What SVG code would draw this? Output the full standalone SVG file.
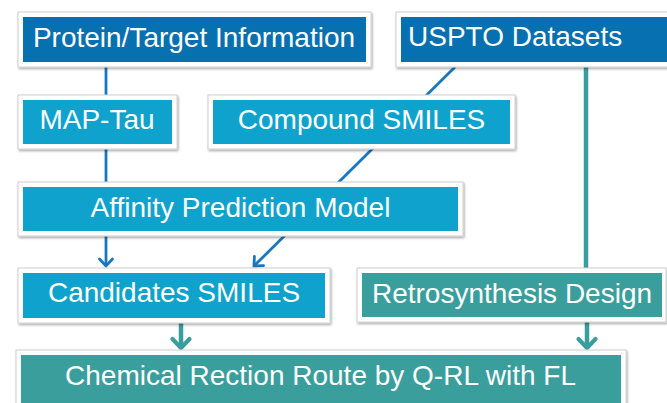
<svg xmlns="http://www.w3.org/2000/svg" width="667" height="403" viewBox="0 0 667 403">
  <defs>
    <filter id="shadow" x="-5%" y="-20%" width="110%" height="140%">
      <feDropShadow dx="1" dy="1.5" stdDeviation="1.2" flood-color="#000" flood-opacity="0.35"/>
    </filter>
    <marker id="arrow-blue" markerUnits="userSpaceOnUse" viewBox="-10 -10 20 20" markerWidth="20" markerHeight="20" refX="0" refY="0" orient="auto" overflow="visible">
      <path d="M -7 -6.5 L 0 0 L -7 6.5" fill="none" stroke="#1877c0" stroke-width="2.8" stroke-linecap="round" stroke-linejoin="miter"/>
    </marker>
    <marker id="arrow-teal" markerUnits="userSpaceOnUse" viewBox="-12 -12 24 24" markerWidth="24" markerHeight="24" refX="0" refY="0" orient="auto" overflow="visible">
      <path d="M -9 -8.5 L 0 0 L -9 8.5" fill="none" stroke="#3a9e9c" stroke-width="4.2" stroke-linecap="round" stroke-linejoin="miter"/>
    </marker>
  </defs>
  <style>
    .frame { fill: #ffffff; stroke: #d0d0d0; stroke-width: 1; filter: url(#shadow); }
    .dark { fill: #0670b1; }
    .light { fill: #0fa2cc; }
    .teal { fill: #3a9e9c; }
    .label { font-family: "Liberation Sans", Arial, sans-serif; font-size: 28px; fill: #ffffff; }
    .mid { text-anchor: middle; }
    .link-blue { fill: none; stroke: #1877c0; stroke-width: 2.8; }
    .link-teal { fill: none; stroke: #3a9e9c; stroke-width: 4.5; }
  </style>

  <rect width="667" height="403" fill="#ffffff"/>

  <!-- connectors (drawn first so the boxes sit on top) -->
  <g id="connectors">
    <line class="link-blue" x1="106" y1="66" x2="106" y2="266" marker-end="url(#arrow-blue)"/>
    <line class="link-blue" x1="455" y1="67" x2="254" y2="266" marker-end="url(#arrow-blue)"/>
    <line class="link-teal" x1="586" y1="66" x2="586" y2="268"/>
    <line class="link-teal" x1="587" y1="322" x2="587" y2="348" marker-end="url(#arrow-teal)"/>
    <line class="link-teal" x1="181" y1="323" x2="181" y2="348" marker-end="url(#arrow-teal)"/>
  </g>

  <g id="protein-target">
    <rect class="frame" x="18" y="12" width="353" height="55"/>
    <rect class="dark" x="23" y="17" width="343" height="45"/>
    <text class="label mid" x="194" y="47">Protein/Target Information</text>
  </g>

  <g id="uspto-datasets">
    <rect class="frame" x="396" y="12" width="290" height="55"/>
    <rect class="dark" x="401" y="17" width="280" height="45"/>
    <text class="label" x="408" y="46">USPTO Datasets</text>
  </g>

  <g id="map-tau">
    <rect class="frame" x="18" y="95" width="159" height="54"/>
    <rect class="light" x="23" y="100" width="149" height="44"/>
    <text class="label mid" x="97" y="129">MAP-Tau</text>
  </g>

  <g id="compound-smiles">
    <rect class="frame" x="208" y="95" width="307" height="54"/>
    <rect class="light" x="213" y="100" width="297" height="44"/>
    <text class="label mid" x="361.5" y="129">Compound SMILES</text>
  </g>

  <g id="affinity-model">
    <rect class="frame" x="18" y="182" width="445" height="54"/>
    <rect class="light" x="23" y="187" width="435" height="44"/>
    <text class="label mid" x="240.5" y="217">Affinity Prediction Model</text>
  </g>

  <g id="candidates-smiles">
    <rect class="frame" x="18" y="268" width="312" height="55"/>
    <rect class="light" x="23" y="273" width="302" height="45"/>
    <text class="label mid" x="174" y="302">Candidates SMILES</text>
  </g>

  <g id="retrosynthesis">
    <rect class="frame" x="357" y="268" width="309" height="54"/>
    <rect class="teal" x="362" y="273" width="300" height="44"/>
    <text class="label mid" x="512" y="303">Retrosynthesis Design</text>
  </g>

  <g id="reaction-route">
    <rect class="frame" x="16" y="350" width="610" height="60"/>
    <rect class="teal" x="21" y="355" width="600" height="50"/>
    <text class="label mid" x="320.5" y="385">Chemical Rection Route by Q-RL with FL</text>
  </g>
</svg>
